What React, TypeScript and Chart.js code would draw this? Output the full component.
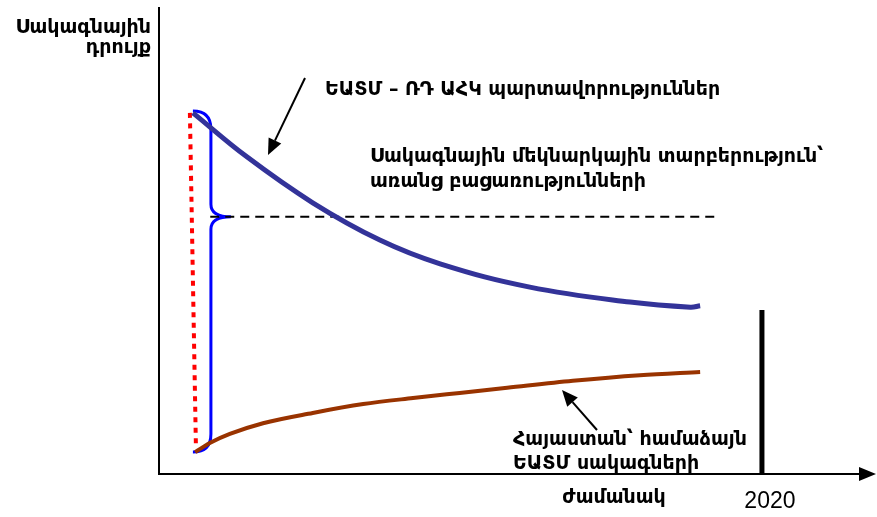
import React, { useEffect, useRef } from "react";
import { Chart, registerables } from "chart.js";

Chart.register(...registerables);

// Conceptual time axis (years) and tariff level (%)
const eaeuYears = [2012.45, 2013.17, 2014.04, 2014.93, 2015.73, 2016.92, 2018.25, 2019.05, 2019.18];
const eaeuValues = [77.5, 68.0, 58.2, 50.2, 45.1, 40.1, 36.9, 35.8, 36.1];
const armYears = [2012.48, 2012.68, 2012.94, 2013.38, 2014.04, 2014.71, 2015.37, 2015.99, 2016.62, 2017.49, 2018.38, 2019.18];
const armValues = [4.7, 6.7, 8.6, 10.9, 13.1, 15.0, 16.3, 17.4, 18.5, 20.0, 21.2, 21.9];
const gapYears = [2012.41, 2012.49];
const gapValues = [77.5, 5.8];
const dashYears = [2012.68, 2019.44];
const dashValues = [55.2, 55.2];
const markYear = 2020;
const markValues = [35.2, 0];
const braceX = 2012.45;
const braceValues = [77.9, 55.2, 4.7];

const yLabel = ["Սակագնային", "դրույք"];
const xLabel = "ժամանակ";
const markLabel = "2020";
const eaeuLabel = "ԵԱՏՄ – ՌԴ ԱՀԿ պարտավորություններ";
const gapLabel = ["Սակագնային մեկնարկային տարբերություն՝", "առանց բացառությունների"];
const armLabel = ["Հայաստան՝ համաձայն", "ԵԱՏՄ սակագների"];

const FONT = "'DejaVu Sans', 'Noto Sans', sans-serif";

function arrow(ctx: CanvasRenderingContext2D, x1: number, y1: number, x2: number, y2: number) {
  const ang = Math.atan2(y2 - y1, x2 - x1);
  const len = 16, half = 7;
  const bx = x2 - Math.cos(ang) * len, by = y2 - Math.sin(ang) * len;
  ctx.save();
  ctx.strokeStyle = "#000";
  ctx.fillStyle = "#000";
  ctx.lineWidth = 2;
  ctx.beginPath();
  ctx.moveTo(x1, y1);
  ctx.lineTo(bx, by);
  ctx.stroke();
  ctx.beginPath();
  ctx.moveTo(x2, y2);
  ctx.lineTo(bx + Math.sin(ang) * half, by - Math.cos(ang) * half);
  ctx.lineTo(bx - Math.sin(ang) * half, by + Math.cos(ang) * half);
  ctx.closePath();
  ctx.fill();
  ctx.restore();
}

const decor = {
  id: "decor",
  beforeDatasetsDraw(chart: any) {
    const { ctx, chartArea, scales } = chart;
    const xs = scales.x, ys = scales.y;
    ctx.save();
    // axes
    ctx.strokeStyle = "#000";
    ctx.lineWidth = 2;
    ctx.beginPath();
    ctx.moveTo(chartArea.left, chartArea.top - 1);
    ctx.lineTo(chartArea.left, chartArea.bottom);
    ctx.lineTo(chartArea.right - 14, chartArea.bottom);
    ctx.stroke();
    ctx.fillStyle = "#000";
    ctx.beginPath();
    ctx.moveTo(chartArea.right + 1, chartArea.bottom);
    ctx.lineTo(chartArea.right - 16, chartArea.bottom - 7);
    ctx.lineTo(chartArea.right - 16, chartArea.bottom + 7);
    ctx.closePath();
    ctx.fill();

    // brace
    const x0 = xs.getPixelForValue(braceX);
    const xv = x0 + 18, xt = x0 + 38, r = 18;
    const yT = ys.getPixelForValue(braceValues[0]);
    const yM = ys.getPixelForValue(braceValues[1]);
    const yB = ys.getPixelForValue(braceValues[2]);
    ctx.strokeStyle = "#0000FF";
    ctx.lineWidth = 3;
    ctx.beginPath();
    ctx.moveTo(x0, yT);
    ctx.quadraticCurveTo(xv, yT, xv, yT + r);
    ctx.lineTo(xv, yM - r * 0.7);
    ctx.quadraticCurveTo(xv, yM, xt, yM);
    ctx.quadraticCurveTo(xv, yM, xv, yM + r * 0.7);
    ctx.lineTo(xv, yB - r);
    ctx.quadraticCurveTo(xv, yB, x0, yB);
    ctx.stroke();
    ctx.restore();
  },
  afterDraw(chart: any) {
    const { ctx, scales } = chart;
    const xs = scales.x;
    ctx.save();
    ctx.fillStyle = "#000";
    ctx.textBaseline = "alphabetic";
    ctx.font = `bold 19px ${FONT}`;
    ctx.textAlign = "right";
    ctx.fillText(yLabel[0], 151, 33, 138);
    ctx.fillText(yLabel[1], 151, 53, 138);
    ctx.textAlign = "left";
    ctx.fillText(eaeuLabel, 325, 95, 398);
    ctx.fillText(gapLabel[0], 370, 162, 462);
    ctx.fillText(gapLabel[1], 370, 187, 280);
    ctx.fillText(armLabel[0], 513, 445, 245);
    ctx.fillText(armLabel[1], 513, 469, 188);
    ctx.textAlign = "center";
    ctx.fillText(xLabel, 614, 503, 108);
    ctx.font = `23px 'Liberation Sans', Arial, sans-serif`;
    ctx.fillText(markLabel, xs.getPixelForValue(markYear) + 8, 508);

    arrow(ctx, 305, 78, 268, 155);
    arrow(ctx, 597, 430, 562, 390);
    ctx.restore();
  },
};

export default function App() {
  const ref = useRef<HTMLCanvasElement | null>(null);
  useEffect(() => {
    if (!ref.current) return;
    const pts = (xs: number[], ys: number[]) => xs.map((x, i) => ({ x, y: ys[i] }));
    const chart = new Chart(ref.current, {
      type: "line",
      data: {
        datasets: [
          {
            label: "EAEU",
            data: pts(eaeuYears, eaeuValues),
            borderColor: "#333399",
            borderWidth: 5,
            tension: 0.4,
            pointRadius: 0,
            fill: false,
            order: 1,
          },
          {
            label: "Armenia",
            data: pts(armYears, armValues),
            borderColor: "#993300",
            borderWidth: 4,
            cubicInterpolationMode: "monotone",
            pointRadius: 0,
            fill: false,
            order: 2,
          },
          {
            label: "gap",
            data: pts(gapYears, gapValues),
            borderColor: "#FF0000",
            borderWidth: 4,
            borderDash: [5, 5.5],
            borderCapStyle: "butt",
            pointRadius: 0,
            fill: false,
            order: 3,
          },
          {
            label: "mid",
            data: pts(dashYears, dashValues),
            borderColor: "#000",
            borderWidth: 2,
            borderDash: [9, 6],
            pointRadius: 0,
            fill: false,
            order: 4,
          },
          {
            label: "2020",
            data: pts([markYear, markYear], markValues),
            borderColor: "#000",
            borderWidth: 5,
            pointRadius: 0,
            fill: false,
            order: 5,
          },
        ],
      },
      options: {
        animation: false,
        responsive: true,
        maintainAspectRatio: false,
        layout: { padding: { left: 159, right: 2, top: 8, bottom: 43 } },
        plugins: { legend: { display: false }, tooltip: { enabled: false } },
        scales: {
          x: { type: "linear", min: 2012, max: 2021.5, display: false },
          y: { type: "linear", min: 0, max: 100, display: false },
        },
      },
      plugins: [decor],
    });
    return () => chart.destroy();
  }, []);
  return (
    <div style={{ position: "absolute", left: 0, top: 0, width: 877, height: 517 }}>
      <canvas ref={ref} />
    </div>
  );
}
